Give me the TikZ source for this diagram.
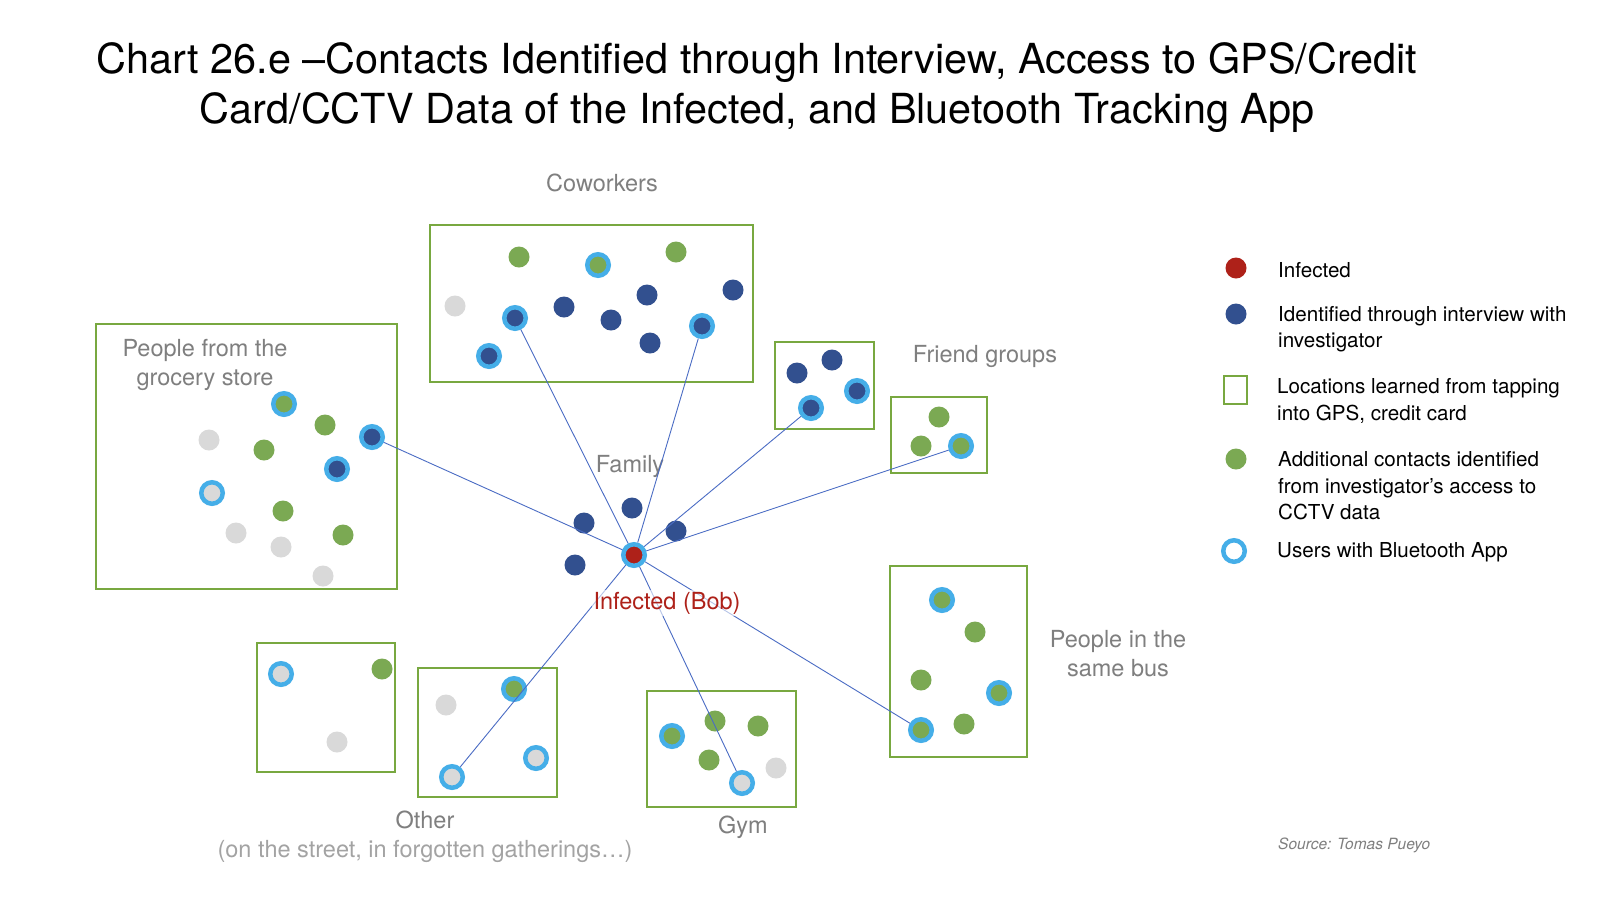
\documentclass[tikz,border=0pt]{standalone}
\usepackage{fontspec}
\setmainfont{TeX Gyre Heros}
\definecolor{dblue}{HTML}{32508F}
\definecolor{cgreen}{HTML}{7BA953}
\definecolor{cgray}{HTML}{D9D9D9}
\definecolor{lblue}{HTML}{45AEE8}
\definecolor{cred}{HTML}{AE2119}
\definecolor{boxgreen}{HTML}{78A840}
\definecolor{lblgray}{HTML}{7F7F7F}
\definecolor{lightlbl}{HTML}{A3A3A3}
\definecolor{lnblue}{HTML}{4A6CC4}
\tikzset{
 dot/.style={circle, inner sep=0pt, minimum size=21pt, draw=none},
 bd/.style={dot, fill=dblue},
 gd/.style={dot, fill=cgreen},
 yd/.style={dot, fill=cgray},
 rd/.style={dot, fill=cred},
 ring/.style={circle, inner sep=0pt, minimum size=21.5pt, draw=lblue, line width=4.5pt},
 rb/.style={ring, fill=dblue},
 rg/.style={ring, fill=cgreen},
 ry/.style={ring, fill=cgray},
 rr/.style={ring, fill=cred},
 loc/.style={draw=boxgreen, line width=2pt},
 lbl/.style={text=lblgray, font=\fontsize{23.5}{29}\selectfont, align=center, inner sep=0pt},
 link/.style={draw=lnblue, line width=0.9pt},
 legtxt/.style={anchor=west, font=\fontsize{20.6}{26.5}\selectfont, align=left, inner sep=0pt},
}
\begin{document}
\begin{tikzpicture}[x=1pt,y=-1pt]
\useasboundingbox[fill=white] (0,0) rectangle (1600,906);
% title
\node[font=\fontsize{41.4}{50}\selectfont, align=center, inner sep=0pt] (title) at (757,88)
 {Chart 26.e --Contacts Identified through Interview, Access to GPS/Credit\\Card/CCTV Data of the Infected, and Bluetooth Tracking App};
% location boxes
\draw[loc] (430,225) rectangle (753,382);
\draw[loc] (96,324) rectangle (397,589);
\draw[loc] (775,342) rectangle (874,429);
\draw[loc] (891,397) rectangle (987,473);
\draw[loc] (257,643) rectangle (395,772);
\draw[loc] (418,668) rectangle (557,797);
\draw[loc] (647,691) rectangle (796,807);
\draw[loc] (890,566) rectangle (1027,757);
% labels
\node[lbl] (lcow) at (602,183) {Coworkers};
\node[lbl] (lgro) at (205,365) {People from the\\grocery store};
\node[lbl] (lfri) at (985,356) {Friend groups};
\node[lbl] (lfam) at (630,466) {Family};
\node[lbl] (lbus) at (1118,654) {People in the\\same bus};
\node[lbl] (lgym) at (743,827) {Gym};
\node[lbl] (loth) at (425,820) {Other};
\node[lbl, text=lightlbl] (loth2) at (425,851) {(on the street, in forgotten gatherings\ldots)};
% coworkers
\node[gd] (c1) at (519,257) {};
\node[rg] (c2) at (598,265) {};
\node[gd] (c3) at (676,252) {};
\node[yd] (c4) at (455,306) {};
\node[rb] (c5) at (515,318) {};
\node[bd] (c6) at (564,307) {};
\node[bd] (c7) at (611,320) {};
\node[bd] (c8) at (647,295) {};
\node[bd] (c9) at (733,290) {};
\node[bd] (c10) at (650,343) {};
\node[rb] (c11) at (702,326) {};
\node[rb] (c12) at (489,356) {};
% grocery
\node[rg] (g1) at (284,404) {};
\node[gd] (g2) at (325,425) {};
\node[yd] (g3) at (209,440) {};
\node[gd] (g4) at (264,450) {};
\node[rb] (g5) at (372,437) {};
\node[rb] (g6) at (337,469) {};
\node[ry] (g7) at (212,493) {};
\node[gd] (g8) at (283,511) {};
\node[yd] (g9) at (236,533) {};
\node[yd] (g10) at (281,547) {};
\node[gd] (g11) at (343,535) {};
\node[yd] (g12) at (323,576) {};
% friends
\node[bd] (f1) at (797,373) {};
\node[bd] (f2) at (832,360) {};
\node[rb] (f3) at (857,391) {};
\node[rb] (f4) at (811,408) {};
\node[gd] (h1) at (939,417) {};
\node[gd] (h2) at (921,446) {};
\node[rg] (h3) at (961,446) {};
% family
\node[bd] (m1) at (632,508) {};
\node[bd] (m2) at (584,523) {};
\node[bd] (m3) at (676,531) {};
\node[bd] (m4) at (575,565) {};
\node[rr] (bob) at (634,555) {};
% box A
\node[ry] (a1) at (281,674) {};
\node[gd] (a2) at (382,669) {};
\node[yd] (a3) at (337,742) {};
% other
\node[yd] (o1) at (446,705) {};
\node[rg] (o2) at (514,689) {};
\node[ry] (o3) at (536,758) {};
\node[ry] (o4) at (452,777) {};
% gym
\node[rg] (y1) at (672,736) {};
\node[gd] (y2) at (715,721) {};
\node[gd] (y3) at (758,726) {};
\node[gd] (y4) at (709,760) {};
\node[ry] (y5) at (742,783) {};
\node[yd] (y6) at (776,768) {};
% bus
\node[rg] (b1) at (942,600) {};
\node[gd] (b2) at (975,632) {};
\node[gd] (b3) at (921,680) {};
\node[rg] (b4) at (999,693) {};
\node[rg] (b5) at (921,730) {};
\node[gd] (b6) at (964,724) {};
% links
\foreach \t in {c5,c11,g5,f4,h3,o4,y5,b5}
  \draw[link] (bob) -- (\t);
\node[fill=white, fill opacity=0.6, text opacity=1, text=cred, font=\fontsize{23.5}{29}\selectfont, inner sep=2pt] (lbob) at (667,603) {Infected (Bob)};
% legend
\node[rd] (k1) at (1236,268) {};
\node[legtxt] (t1) at (1278,270) {Infected};
\node[bd] (k2) at (1236,314) {};
\node[legtxt] (t2) at (1278,329) {Identified through interview with\\investigator};
\draw[loc] (1224,376) rectangle (1247,404);
\node[legtxt] (t3) at (1277,401) {Locations learned from tapping\\into GPS, credit card};
\node[gd] (k4) at (1236,459) {};
\node[legtxt] (t4) at (1278,486) {Additional contacts identified\\from investigator's access to\\CCTV data};
\node[ring, fill=white] (k5) at (1234,551) {};
\node[legtxt] (t5) at (1277,552) {Users with Bluetooth App};
% source
\node[text=lblgray, font=\fontsize{15.5}{18}\selectfont\itshape, anchor=west, inner sep=0pt] (src) at (1278,845) {Source: Tomas Pueyo};
\end{tikzpicture}
\end{document}
